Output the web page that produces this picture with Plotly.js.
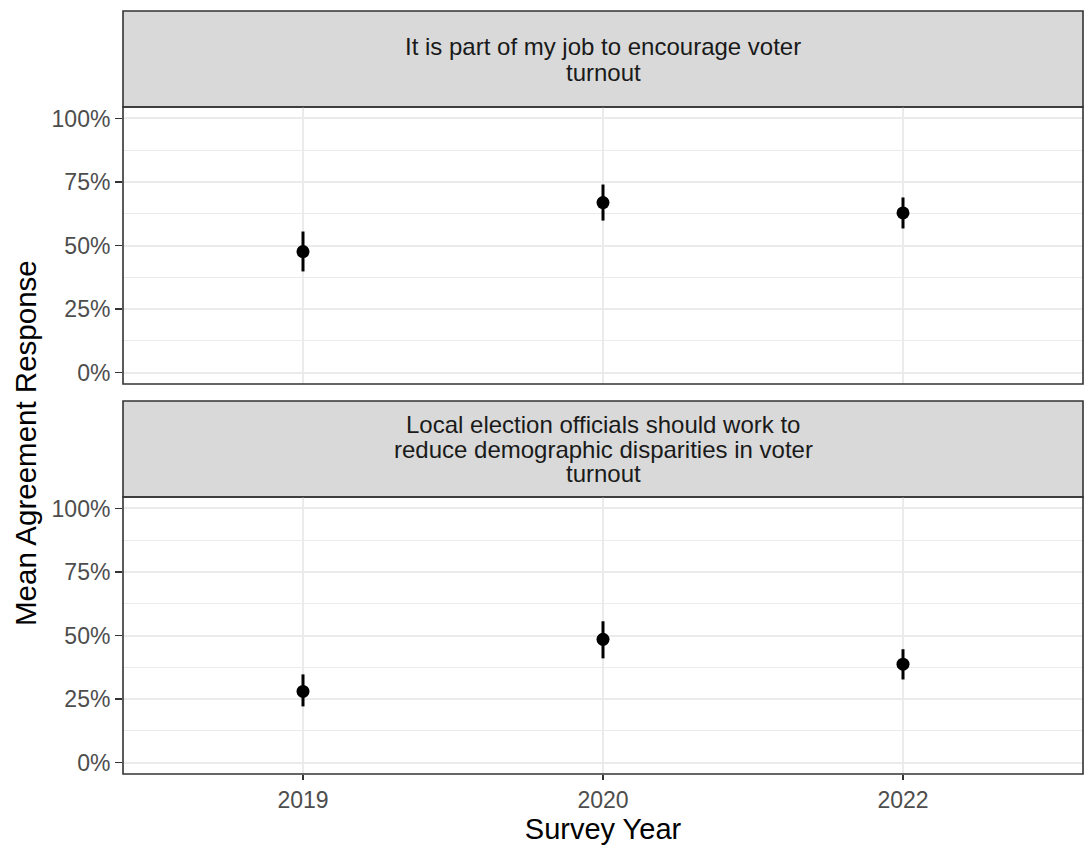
<!DOCTYPE html>
<html>
<head>
<meta charset="utf-8">
<script src="https://cdn.plot.ly/plotly-3.0.1.min.js"></script>
<style>
  html, body { margin: 0; padding: 0; background: #ffffff; }
  #chart { width: 1084px; height: 848px; }
</style>
</head>
<body>
<div id="chart"></div>
<script>
// Survey years (discrete x axis)
const years = ["2019", "2020", "2022"];

// Panel 1: "It is part of my job to encourage voter turnout"
const jobMean  = [0.476, 0.669, 0.628];
const jobLow   = [0.398, 0.598, 0.567];
const jobHigh  = [0.555, 0.740, 0.689];

// Panel 2: "Local election officials should work to reduce demographic disparities in voter turnout"
const dispMean = [0.280, 0.485, 0.387];
const dispLow  = [0.221, 0.410, 0.327];
const dispHigh = [0.347, 0.556, 0.446];

// Facet strip labels, one entry per wrapped line
const jobLabel  = ["It is part of my job to encourage voter", "turnout"];
const dispLabel = ["Local election officials should work to",
                   "reduce demographic disparities in voter", "turnout"];

const yTicks = [0, 0.25, 0.5, 0.75, 1];
const yTickText = ["0%", "25%", "50%", "75%", "100%"];

// ---- layout geometry (pixels) ----
const W = 1084, H = 848;
const M = { l: 123, r: 1, t: 11, b: 74 };
const plotTop = M.t, plotBottom = H - M.b;      // 11 .. 774
const plotH = plotBottom - plotTop;
const py = px => (plotBottom - px) / plotH;     // pixel row -> paper fraction

const topPanel  = [py(384), py(107)];
const topStrip  = [py(107), 1];
const botPanel  = [0, py(497)];
const botStrip  = [py(497), py(401)];

const FONT = "Liberation Sans, Arial, sans-serif";
const gridCol = "#EBEBEB";
const frameCol = "#333333";

function trace(mean, low, high, xa, ya) {
  return {
    type: "scatter", mode: "markers",
    x: years, y: mean, xaxis: xa, yaxis: ya,
    marker: { color: "#000000", size: 13 },
    error_y: {
      type: "data", symmetric: false,
      array: high.map((h, i) => h - mean[i]),
      arrayminus: mean.map((m, i) => m - low[i]),
      color: "#000000", thickness: 3, width: 0
    },
    showlegend: false, hoverinfo: "x+y"
  };
}

const data = [
  trace(jobMean, jobLow, jobHigh, "x2", "y2"),
  trace(dispMean, dispLow, dispHigh, "x", "y")
];

function yAxis(domain, anchor) {
  return {
    domain: domain, anchor: anchor,
    range: [-0.045, 1.045], fixedrange: true,
    tickmode: "array", tickvals: yTicks, ticktext: yTickText,
    ticks: "outside", ticklen: 7, tickwidth: 1.6, tickcolor: frameCol,
    tickfont: { family: FONT, size: 23, color: "#4D4D4D" },
    showgrid: true, gridcolor: gridCol, gridwidth: 2,
    minor: { tickmode: "array", tickvals: [0.125, 0.375, 0.625, 0.875],
             showgrid: true, gridcolor: gridCol, gridwidth: 1, ticks: "" },
    zeroline: false, showline: false
  };
}

function xAxis(anchor, showLabels) {
  return {
    anchor: anchor, domain: [0, 1],
    type: "category", range: [-0.6, 2.6], fixedrange: true,
    categoryorder: "array", categoryarray: years,
    ticks: showLabels ? "outside" : "", ticklen: 5, tickwidth: 1.6, tickcolor: frameCol,
    showticklabels: showLabels,
    tickfont: { family: FONT, size: 23, color: "#4D4D4D" },
    showgrid: true, gridcolor: gridCol, gridwidth: 2,
    zeroline: false, showline: false
  };
}

const shapes = [];
// panel frames and strip boxes
[[topStrip, true], [botStrip, true], [topPanel, false], [botPanel, false]].forEach(([d, isStrip]) => {
  shapes.push({
    type: "rect", xref: "paper", yref: "paper",
    x0: 0, x1: 1, y0: d[0], y1: d[1],
    fillcolor: isStrip ? "#D9D9D9" : "rgba(0,0,0,0)",
    line: { color: frameCol, width: 1.6 },
    layer: isStrip ? "below" : "above"
  });
});

const annotations = [];
function stripText(lines, centerPx) {
  const spacing = 25;
  const start = centerPx - spacing * (lines.length - 1) / 2;
  lines.forEach((t, i) => {
    annotations.push({
      text: t, xref: "paper", yref: "paper",
      x: 0.5, y: py(start + i * spacing),
      xanchor: "center", yanchor: "middle", showarrow: false,
      font: { family: FONT, size: 24, color: "#1A1A1A" }
    });
  });
}
stripText(jobLabel, 59.5);
stripText(dispLabel, 449);

// shared y-axis title spanning both panels
annotations.push({
  text: "Mean Agreement Response", xref: "paper", yref: "paper",
  x: (25 - M.l) / (W - M.l - M.r), y: py(443),
  xanchor: "center", yanchor: "middle", textangle: -90, showarrow: false,
  font: { family: FONT, size: 29.5, color: "#000000" }
});

const xBottom = xAxis("y", true);
xBottom.title = { text: "Survey Year", font: { family: FONT, size: 29, color: "#000000" }, standoff: 2 };

const layout = {
  width: W, height: H,
  margin: M,
  paper_bgcolor: "#ffffff", plot_bgcolor: "#ffffff",
  font: { family: FONT },
  xaxis: xBottom,
  yaxis: yAxis(botPanel, "x"),
  xaxis2: xAxis("y2", false),
  yaxis2: yAxis(topPanel, "x2"),
  shapes: shapes,
  annotations: annotations
};

Plotly.newPlot("chart", data, layout, { displayModeBar: false, staticPlot: true });
</script>
</body>
</html>
